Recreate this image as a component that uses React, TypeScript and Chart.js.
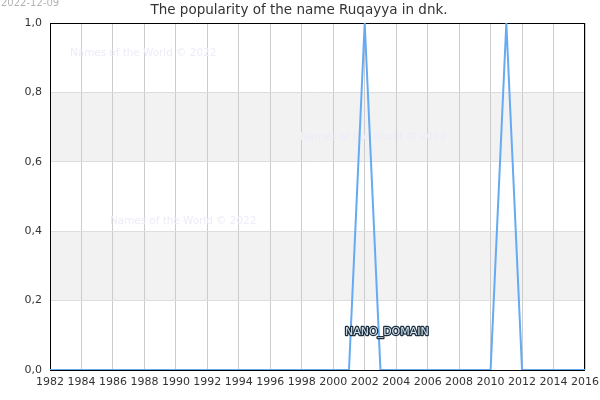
import React, { useEffect, useRef } from "react";
import { Chart, registerables } from "chart.js";

Chart.register(...registerables);

const years = [
  1982, 1983, 1984, 1985, 1986, 1987, 1988, 1989, 1990, 1991, 1992, 1993,
  1994, 1995, 1996, 1997, 1998, 1999, 2000, 2001, 2002, 2003, 2004, 2005,
  2006, 2007, 2008, 2009, 2010, 2011, 2012, 2013, 2014, 2015, 2016,
];
const popularity = [
  0, 0, 0, 0, 0, 0, 0, 0, 0, 0, 0, 0, 0, 0, 0, 0, 0, 0, 0, 0, 1, 0, 0, 0, 0,
  0, 0, 0, 0, 1, 0, 0, 0, 0, 0,
];
const bands: [number, number][] = [
  [0.2, 0.4],
  [0.6, 0.8],
];
const titleText = "The popularity of the name Ruqayya in dnk.";
const dateText = "2022-12-09";
const watermarkText = "Names of the World © 2022";
const domainText = "NANO_DOMAIN";

const FONT = "'DejaVu Sans', sans-serif";

const decorPlugin = {
  id: "decor",
  beforeDraw(chart: any) {
    const { ctx, chartArea, scales } = chart;
    ctx.save();
    // shaded bands
    ctx.fillStyle = "#f2f2f2";
    bands.forEach(([a, b]) => {
      const y1 = scales.y.getPixelForValue(b);
      const y2 = scales.y.getPixelForValue(a);
      ctx.fillRect(chartArea.left, y1, chartArea.right - chartArea.left, y2 - y1);
    });
    // date + title
    ctx.font = `10px ${FONT}`;
    ctx.fillStyle = "#b4b4b4";
    ctx.textBaseline = "middle";
    ctx.textAlign = "left";
    ctx.fillText(dateText, 1, 3);
    ctx.font = `13.5px ${FONT}`;
    ctx.fillStyle = "#333";
    ctx.textAlign = "center";
    ctx.fillText(titleText, 299, 10);
    ctx.restore();
  },
  beforeDatasetsDraw(chart: any) {
    const { ctx, chartArea } = chart;
    ctx.save();
    ctx.font = `10.4px ${FONT}`;
    ctx.fillStyle = "#ececfa";
    ctx.textBaseline = "middle";
    ctx.textAlign = "left";
    ctx.fillText(watermarkText, 70, 53);
    ctx.fillText(watermarkText, 300, 137);
    ctx.fillText(watermarkText, 110, 221);
    // plot border
    ctx.strokeStyle = "#000";
    ctx.lineWidth = 1;
    ctx.strokeRect(
      chartArea.left + 0.5,
      chartArea.top + 0.5,
      chartArea.right - chartArea.left - 1,
      chartArea.bottom - chartArea.top
    );
    ctx.restore();
  },
  afterDatasetsDraw(chart: any) {
    const { ctx } = chart;
    ctx.save();
    ctx.font = `11px ${FONT}`;
    ctx.textBaseline = "middle";
    ctx.textAlign = "left";
    ctx.lineWidth = 2.5;
    ctx.lineJoin = "round";
    ctx.strokeStyle = "#1c2e3e";
    ctx.strokeText(domainText, 345, 332);
    ctx.fillStyle = "#d4e4f0";
    ctx.fillText(domainText, 345, 332);
    ctx.restore();
  },
};

export default function App() {
  const canvasRef = useRef<HTMLCanvasElement | null>(null);

  useEffect(() => {
    const ctx = canvasRef.current?.getContext("2d");
    if (!ctx) return;
    const chart = new Chart(ctx, {
      type: "line",
      data: {
        datasets: [
          {
            data: years.map((y, i) => ({ x: y, y: popularity[i] })),
            borderColor: "#66aaf2",
            borderWidth: 2,
            pointRadius: 0,
            tension: 0,
            fill: false,
          },
        ],
      },
      options: {
        responsive: false,
        animation: false,
        layout: { padding: { top: 23, right: 15, left: 0, bottom: 0 } },
        plugins: {
          legend: { display: false },
          title: { display: false },
          tooltip: { enabled: false },
        },
        scales: {
          x: {
            type: "linear",
            min: 1982,
            max: 2016,
            afterFit: (s: any) => {
              s.height = 30;
              s.paddingLeft = 0;
              s.paddingRight = 0;
            },
            grid: { color: "#cccccc", drawTicks: false },
            border: { display: false },
            ticks: {
              stepSize: 2,
              padding: 6,
              color: "#333",
              font: { family: FONT, size: 11 },
              callback: (v: any) => String(v),
              maxRotation: 0,
            },
          },
          y: {
            min: 0,
            max: 1,
            afterFit: (s: any) => {
              s.width = 50;
              s.paddingTop = 0;
              s.paddingBottom = 0;
            },
            grid: { color: "#dddddd", drawTicks: false },
            border: { display: false },
            ticks: {
              stepSize: 0.2,
              padding: 8,
              color: "#333",
              font: { family: FONT, size: 11 },
              callback: (v: any) => Number(v).toFixed(1).replace(".", ","),
            },
          },
        },
      },
      plugins: [decorPlugin],
    });
    return () => chart.destroy();
  }, []);

  return (
    <div style={{ position: "fixed", left: 0, top: 0, width: 600, height: 400, background: "#fff" }}>
      <canvas ref={canvasRef} width={600} height={400} />
    </div>
  );
}
